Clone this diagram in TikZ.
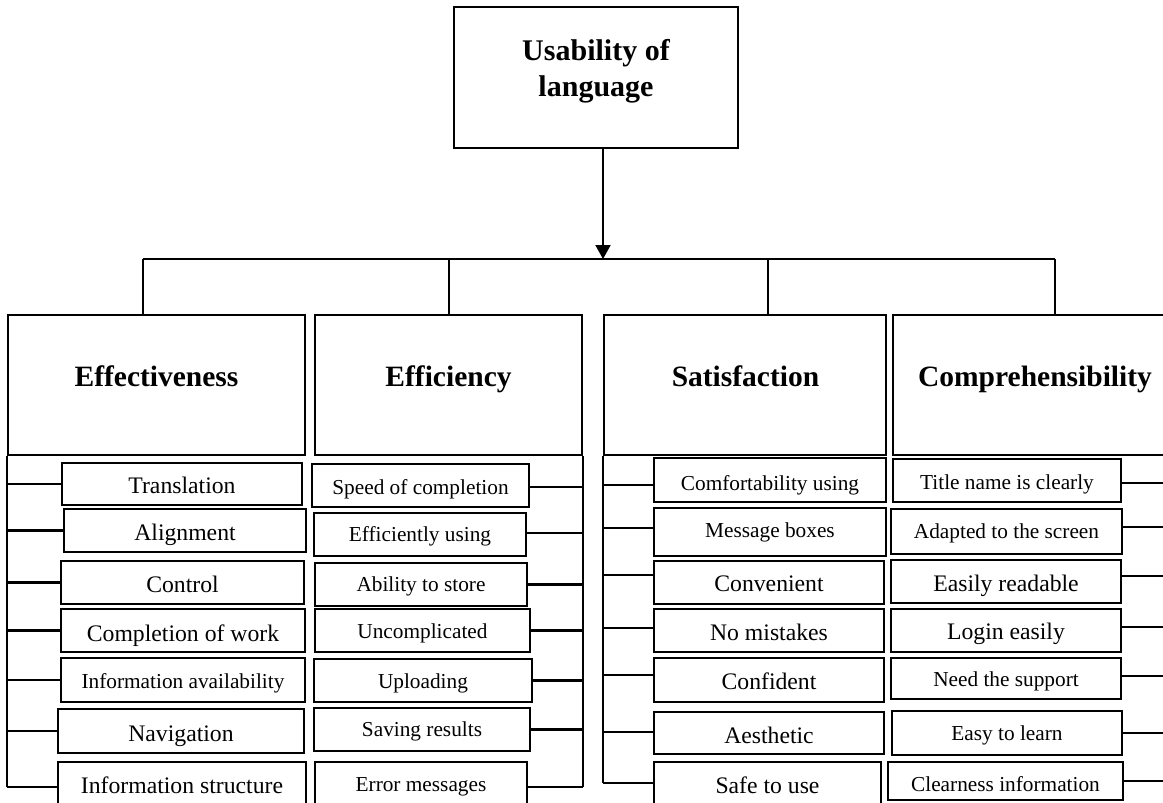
\documentclass[tikz,border=0pt]{standalone}
\usepackage{fontspec}
\setmainfont{Liberation Serif}
\usetikzlibrary{arrows.meta,calc}
\newcommand\mysub[8]{%
  \node[subbox, minimum width={#4-#2}, minimum height={#5-#3}] (#1) at ({(#2+#4)/2},{(#3+#5)/2}) {};
  \node[#6, anchor=base, inner sep=0pt] (#1t) at ({(#2+#4)/2},#7) {#8};
}
\newcommand\conn[4]{%
  \coordinate (#1c) at ([yshift=#3pt]#1.#2);
  \draw[link] (#1c) -- (#1c -| #4);
}
\begin{document}
\begin{tikzpicture}[x=1pt,y=-1pt,
  subbox/.style={draw, line width=1.3pt, inner sep=0pt},
  catbox/.style={draw, line width=2.4pt, inner sep=0pt},
  topbox/.style={draw, line width=1.7pt, inner sep=0pt},
  link/.style={line width=2.2pt},
  busline/.style={line width=2pt},
  big/.style={font=\fontsize{23.7}{26}\selectfont},
  small/.style={font=\fontsize{21.3}{24}\selectfont},
  cattext/.style={font=\fontsize{29.5}{34}\selectfont\bfseries, inner sep=0pt},
  toptext/.style={font=\fontsize{30}{36}\selectfont\bfseries, align=center, inner sep=0pt}
]
\useasboundingbox (0,0) rectangle (1163,803);
\clip (0,0) rectangle (1163,803);

% root
\node[topbox, minimum width=284, minimum height=141] (root) at (596,77.5) {};
\node[toptext] (roott) at (596,71) {Usability of\\language};

% bus
\coordinate (bL) at (143,259);
\coordinate (b2) at (449,259);
\coordinate (b3) at (768,259);
\coordinate (bR) at (1055,259);
\draw[busline] (bL) -- (bR);

\coordinate (aTop) at ([xshift=7pt]root.south);
\coordinate (aBot) at (aTop |- bL);
\draw[busline, -{Triangle[length=14pt,width=15pt]}] (aTop) -- (aBot);

% categories
\node[catbox, minimum width=297, minimum height=140] (eff) at (156.5,385) {};
\node[cattext, anchor=base] (efft) at (156.5,386) {Effectiveness};
\node[catbox, minimum width=267, minimum height=140] (effi) at (448.5,385) {};
\node[cattext, anchor=base] (effit) at (448.5,386) {Efficiency};
\node[catbox, minimum width=282, minimum height=140] (sat) at (745,385) {};
\node[cattext, anchor=base] (satt) at (745.5,386) {Satisfaction};
\node[catbox, minimum width=282, minimum height=140] (comp) at (1034,385) {};
\node[cattext, anchor=base] (compt) at (1035,386) {Comprehensibility};

\draw[busline] (bL) -- (bL |- eff.north);
\draw[busline] (b2) -- (b2 |- effi.north);
\draw[busline] (b3) -- (b3 |- sat.north);
\draw[busline] (bR) -- (bR |- comp.north);

% Effectiveness items
\mysub{T1}{62}{463}{302}{505}{big}{493.3}{Translation}
\mysub{T2}{64}{509}{306}{552}{big}{540}{Alignment}
\mysub{T3}{61}{561}{304}{604}{big}{592.7}{Control}
\mysub{T4}{61}{609}{305}{652}{big}{641}{Completion of work}
\mysub{T5}{61}{658}{305}{702}{small}{688}{Information availability}
\mysub{T6}{58}{709}{304}{753}{big}{741.7}{Navigation}
\mysub{T7}{58}{762}{306}{812}{big}{793}{Information structure}

% Efficiency items
\mysub{E1}{312}{464}{529}{507}{small}{494}{Speed of completion}
\mysub{E2}{314}{513}{526}{556}{small}{541.7}{Efficiently using}
\mysub{E3}{315}{563}{527}{606}{small}{591.7}{Ability to store}
\mysub{E4}{315}{609}{530}{652}{small}{638.3}{Uncomplicated}
\mysub{E5}{314}{659}{532}{702}{small}{688}{Uploading}
\mysub{E6}{314}{708}{530}{751}{small}{736.7}{Saving results}
\mysub{E7}{315}{762}{527}{812}{small}{791.7}{Error messages}

% Satisfaction items
\mysub{S1}{654}{458}{886}{502}{small}{490}{Comfortability using}
\mysub{S2}{654}{508}{886}{556}{small}{537}{Message boxes}
\mysub{S3}{654}{561}{884}{604}{big}{591.7}{Convenient}
\mysub{S4}{654}{609}{884}{652}{big}{640}{No mistakes}
\mysub{S5}{654}{658}{884}{702}{big}{689}{Confident}
\mysub{S6}{654}{712}{884}{754}{big}{743}{Aesthetic}
\mysub{S7}{654}{762}{881}{804}{big}{793}{Safe to use}

% Comprehensibility items
\mysub{C1}{893}{459}{1121}{502}{small}{489}{Title name is clearly}
\mysub{C2}{891}{509}{1122}{554}{small}{538}{Adapted to the screen}
\mysub{C3}{891}{560}{1121}{603}{big}{591.7}{Easily readable}
\mysub{C4}{891}{609}{1121}{652}{big}{639}{Login easily}
\mysub{C5}{891}{658}{1121}{699}{small}{686.7}{Need the support}
\mysub{C6}{892}{711}{1122}{755}{small}{740}{Easy to learn}
\mysub{C7}{888}{762}{1123}{800}{small}{791.7}{Clearness information}

% spines
\draw[link] (eff.south west) -- (eff.south west |- T7.west);
\draw[link] (effi.south east) -- (effi.south east |- E7.east);
\draw[link] (sat.south west) -- (sat.south west |- S7.west);
\coordinate (compR) at (1180,455);

% connectors
\conn{T1}{west}{0}{eff.south west}
\conn{T2}{west}{0}{eff.south west}
\conn{T3}{west}{0}{eff.south west}
\conn{T4}{west}{0}{eff.south west}
\conn{T5}{west}{0}{eff.south west}
\conn{T6}{west}{0}{eff.south west}
\conn{T7}{west}{0}{eff.south west}

\conn{E1}{east}{-1.5}{effi.south east}
\conn{E2}{east}{1.5}{effi.south east}
\conn{E3}{east}{0}{effi.south east}
\conn{E4}{east}{0}{effi.south east}
\conn{E5}{east}{0}{effi.south east}
\conn{E6}{east}{0}{effi.south east}
\conn{E7}{east}{0}{effi.south east}

\conn{S1}{west}{-5}{sat.south west}
\conn{S2}{west}{4}{sat.south west}
\conn{S3}{west}{7.5}{sat.south west}
\conn{S4}{west}{2.5}{sat.south west}
\conn{S5}{west}{5}{sat.south west}
\conn{S6}{west}{1}{sat.south west}
\conn{S7}{west}{0}{sat.south west}

\conn{C1}{east}{-2.5}{compR}
\conn{C2}{east}{4.5}{compR}
\conn{C3}{east}{5.5}{compR}
\conn{C4}{east}{3.5}{compR}
\conn{C5}{east}{2.5}{compR}
\conn{C6}{east}{0}{compR}
\conn{C7}{east}{0}{compR}
\end{tikzpicture}
\end{document}
